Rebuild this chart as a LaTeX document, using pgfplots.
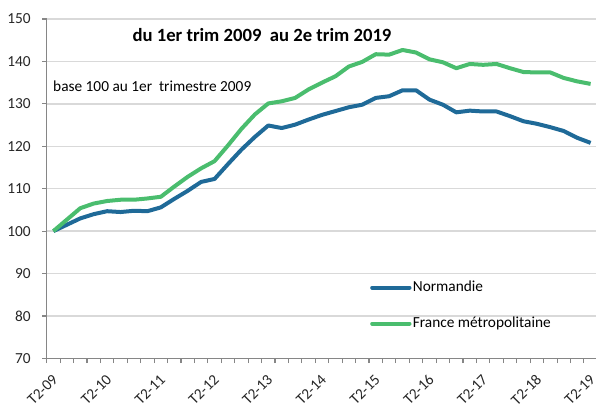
\documentclass[border=0pt]{standalone}
\usepackage{pgfplots}
\pgfplotsset{compat=1.18}
\usepackage{fontspec}
\setmainfont{Carlito}
\definecolor{normblue}{RGB}{31,106,152}
\definecolor{frgreen}{RGB}{74,189,110}
\definecolor{gridgray}{RGB}{217,217,217}
\definecolor{axgray}{RGB}{134,134,134}
\pgfplotstableread{
k norm fr
0 100 100
1 101.5 102.7
2 103.0 105.4
3 104.0 106.5
4 104.7 107.1
5 104.5 107.4
6 104.8 107.4
7 104.7 107.7
8 105.6 108.1
9 107.6 110.5
10 109.5 112.8
11 111.6 114.8
12 112.3 116.5
13 115.8 120.2
14 119.2 124.1
15 122.2 127.5
16 124.9 130.1
17 124.3 130.6
18 125.1 131.4
19 126.3 133.4
20 127.4 135.0
21 128.3 136.5
22 129.2 138.8
23 129.8 139.9
24 131.4 141.7
25 131.8 141.6
26 133.2 142.7
27 133.2 142.1
28 131.0 140.5
29 129.8 139.8
30 128.0 138.4
31 128.4 139.4
32 128.2 139.2
33 128.2 139.4
34 127.1 138.4
35 125.9 137.5
36 125.3 137.4
37 124.5 137.4
38 123.6 136.1
39 122.0 135.3
40 120.8 134.7
}\datatable
\begin{document}
\begin{tikzpicture}
\begin{axis}[
  name=ax,
  scale only axis,
  width=412.9pt, height=254.5pt,
  xmin=-0.5, xmax=40.5,
  ymin=70, ymax=150,
  ytick={70,80,...,150},
  xtick={0,4,...,40},
  xticklabels={T2-09,T2-10,T2-11,T2-12,T2-13,T2-14,T2-15,T2-16,T2-17,T2-18,T2-19},
  minor xtick={-0.5,0.5,...,40.5},
  axis x line*=bottom, axis y line*=left,
  axis line style={axgray, line width=0.8pt, -},
  ymajorgrids, major grid style={gridgray, line width=1.1pt},
  major x tick style={draw=none},
  minor x tick style={axgray, line width=0.8pt},
  major y tick style={axgray, line width=0.8pt},
  tick align=outside,
  major tick length=3.5pt, minor tick length=3.5pt,
  /pgf/number format/assume math mode=true,
  ticklabel style={font=\fontsize{11.5}{13}\selectfont, text=black!85},
  yticklabel style={xshift=-5pt},
  xticklabel shift=10.5pt,
  xticklabel style={inner sep=0pt, rotate=45, anchor=east, xshift=1pt, yshift=-1pt},
  legend style={at={(rel axis cs:0.587,0.232)}, anchor=north west, draw=none, fill=none, inner sep=0pt, row sep=15.5pt, font=\fontsize{11.5}{13}\selectfont, nodes={inner sep=1pt}},
  legend cell align=left,
  legend image code/.code={\draw[#1, line width=3pt, line cap=round] (0pt,0pt) -- (28pt,0pt);},
  clip=false,
]
\addplot[normblue, line width=3pt, line join=round] table[x=k, y=norm] {\datatable};
\addlegendentry{Normandie}
\addplot[frgreen, line width=3pt, line join=round] table[x=k, y=fr] {\datatable};
\addlegendentry{France métropolitaine}
\node[font=\fontsize{14}{16}\selectfont\bfseries] at (rel axis cs:0.391,0.953) {du 1er trim 2009\ \ au 2e trim 2019};
\node[anchor=west, inner sep=0pt, font=\fontsize{11.5}{13}\selectfont] at (rel axis cs:0.0114,0.8025) {base 100 au 1er\ \ trimestre 2009};
\end{axis}
\pgfresetboundingbox
\path ([shift={(-35pt,-35pt)}]ax.south west) rectangle ([shift={(-1pt,14.25pt)}]ax.north east);
\end{tikzpicture}
\end{document}
